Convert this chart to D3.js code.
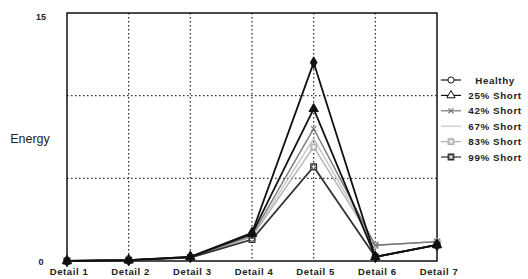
<!DOCTYPE html>
<html>
<head>
    <title>Energy by detail</title>
    <script src="https://d3js.org/d3.v7.min.js" charset="utf-8"></script>
    <style>
        body { margin: 0; background: #fff; }
        text { font-family: "Liberation Sans", Arial, sans-serif; }
    </style>
</head>
<body>
    <script>
        var w = 528;
        var h = 279;

        var categories = ["Detail 1", "Detail 2", "Detail 3", "Detail 4", "Detail 5", "Detail 6", "Detail 7"];
        var seriesNames = ["Healthy", "25% Short", "42% Short", "67% Short", "83% Short", "99% Short"];
        var healthy = [0, 0.05, 0.25, 1.7, 12.0, 0.25, 0.97];
        var short25 = [0, 0.05, 0.25, 1.65, 9.2, 0.25, 0.97];
        var short42 = [0, 0.05, 0.22, 1.55, 8.0, 0.95, 1.17];
        var short67 = [0, 0.05, 0.22, 1.5, 7.4, 0.95, 1.17];
        var short83 = [0, 0.05, 0.2, 1.45, 6.9, 0.95, 1.17];
        var short99 = [0, 0.05, 0.2, 1.3, 5.7, 0.25, 0.97];
        var yTicks = [0, 15];
        var yGrid = [5, 10];

        var seriesValues = [healthy, short25, short42, short67, short83, short99];
        var colors = ["#111", "#111", "#777", "#c4c4c4", "#b0b0b0", "#333"];
        var markers = ["diamond", "triangle", "star", "none", "square", "square"];

        var pLeft = 67, pRight = 437, pTop = 13, pBottom = 261;

        var svg = d3.select("body").append("svg").attr("width", w).attr("height", h);

        var x = d3.scalePoint().domain(categories).range([pLeft, pRight]);
        var y = d3.scaleLinear().domain([0, 15]).range([pBottom, pTop]);

        // dotted grid
        svg.selectAll("line.vgrid")
            .data(categories.slice(1, -1))
            .enter().append("line")
            .attr("class", "vgrid")
            .attr("x1", function (d) { return x(d); })
            .attr("x2", function (d) { return x(d); })
            .attr("y1", pTop).attr("y2", pBottom)
            .attr("stroke", "#333").attr("stroke-width", 1.3)
            .attr("stroke-dasharray", "1.5,2.5");

        svg.selectAll("line.hgrid")
            .data(yGrid)
            .enter().append("line")
            .attr("class", "hgrid")
            .attr("x1", pLeft).attr("x2", pRight)
            .attr("y1", function (d) { return y(d); })
            .attr("y2", function (d) { return y(d); })
            .attr("stroke", "#333").attr("stroke-width", 1.3)
            .attr("stroke-dasharray", "1.5,2.5");

        // frame
        svg.append("rect")
            .attr("x", pLeft).attr("y", pTop)
            .attr("width", pRight - pLeft).attr("height", pBottom - pTop)
            .attr("fill", "none").attr("stroke", "#111").attr("stroke-width", 1.5);

        // axis labels
        svg.selectAll("text.ytick")
            .data(yTicks)
            .enter().append("text")
            .attr("class", "ytick")
            .attr("x", 41)
            .attr("y", function (d) { return y(d) + (d === 0 ? 4 : 7); })
            .attr("text-anchor", "middle")
            .attr("font-size", 9).attr("font-weight", "bold").attr("fill", "#222")
            .text(function (d) { return d; });

        svg.selectAll("text.xtick")
            .data(categories)
            .enter().append("text")
            .attr("class", "xtick")
            .attr("x", function (d) { return x(d) + 2; })
            .attr("y", 275)
            .attr("text-anchor", "middle")
            .attr("font-size", 9.5).attr("font-weight", "bold").attr("fill", "#222")
            .attr("letter-spacing", 0.6)
            .text(function (d) { return d; });

        svg.append("text")
            .attr("x", 30).attr("y", 143)
            .attr("text-anchor", "middle")
            .attr("font-size", 12.5).attr("fill", "#222")
            .text("Energy");

        function drawMarker(g, type, color, size) {
            if (type === "diamond") {
                g.append("path").attr("d", d3.symbol().type(d3.symbolDiamond).size(size * 1.2)())
                    .attr("fill", color).attr("stroke", color);
            } else if (type === "triangle") {
                g.append("path").attr("d", d3.symbol().type(d3.symbolTriangle).size(size * 1.2)())
                    .attr("fill", color).attr("stroke", color);
            } else if (type === "star") {
                g.append("path").attr("d", d3.symbol().type(d3.symbolTimes).size(size * 0.6)())
                    .attr("fill", "none").attr("stroke", color).attr("stroke-width", 1.2);
            } else if (type === "square") {
                g.append("path").attr("d", d3.symbol().type(d3.symbolSquare).size(size)())
                    .attr("fill", "#fff").attr("stroke", color).attr("stroke-width", 1.3);
                g.append("path").attr("d", d3.symbol().type(d3.symbolCross).size(size * 0.5)())
                    .attr("fill", "none").attr("stroke", color).attr("stroke-width", 0.8);
            }
        }

        var line = d3.line()
            .x(function (d, i) { return x(categories[i]); })
            .y(function (d) { return y(d); });

        // draw lighter series first so the dark ones sit on top
        var order = [3, 4, 2, 5, 1, 0];
        order.forEach(function (s) {
            svg.append("path")
                .datum(seriesValues[s])
                .attr("d", line)
                .attr("fill", "none")
                .attr("stroke", colors[s])
                .attr("stroke-width", s === 0 || s === 1 || s === 5 ? 1.8 : 1.4);

            seriesValues[s].forEach(function (v, i) {
                var g = svg.append("g")
                    .attr("transform", "translate(" + x(categories[i]) + "," + y(v) + ")");
                drawMarker(g, markers[s], colors[s], 32);
            });
        });

        // legend
        var legend = svg.append("g");
        seriesNames.forEach(function (name, i) {
            var ly = 80 + i * 15.4;
            legend.append("line")
                .attr("x1", 441).attr("x2", 461)
                .attr("y1", ly).attr("y2", ly)
                .attr("stroke", colors[i]).attr("stroke-width", 1.2);
            var g = legend.append("g").attr("transform", "translate(451," + ly + ")");
            if (markers[i] === "diamond" || markers[i] === "triangle") {
                g.append("path")
                    .attr("d", d3.symbol().type(markers[i] === "diamond" ? d3.symbolCircle : d3.symbolTriangle).size(30)())
                    .attr("fill", "#fff").attr("stroke", colors[i]).attr("stroke-width", 1);
            } else {
                drawMarker(g, markers[i], colors[i], 30);
            }
            legend.append("text")
                .attr("x", 495).attr("y", ly + 3.5)
                .attr("text-anchor", "middle")
                .attr("font-size", 9.8).attr("font-weight", "bold").attr("fill", "#222")
                .attr("letter-spacing", 0.6)
                .text(name);
        });
    </script>
</body>
</html>
